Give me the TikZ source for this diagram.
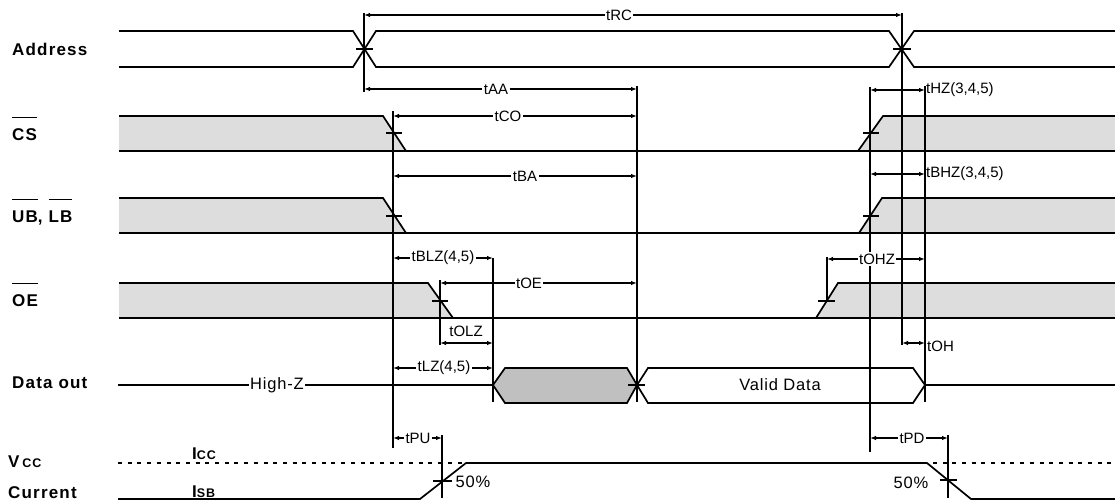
\documentclass[tikz,border=0pt]{standalone}
\usepackage{fontspec}
\setmainfont{Liberation Sans}
\newfontfamily\lblfont[LetterSpace=7]{Liberation Sans}
\newfontfamily\txtfont[LetterSpace=5]{Liberation Sans}
\usetikzlibrary{arrows.meta}
\definecolor{lgray}{RGB}{221,221,221}
\definecolor{dgray}{RGB}{192,192,192}
\newcommand\myovl[1]{\setbox0=\hbox{#1}\leavevmode\rlap{\raisebox{22pt}{\rule{\wd0}{1.5pt}}}\box0}
\begin{document}
\begin{tikzpicture}[x=1pt,y=-1pt,
  sig/.style={line width=1.7pt},
  refl/.style={line width=1.6pt},
  dim/.style={line width=1.2pt,{Latex[length=6pt,width=4.5pt]}-{Latex[length=6pt,width=4.5pt]}},
  tlab/.style={font=\fontsize{15}{16}\selectfont, fill=white, inner sep=1.5pt},
  tlabw/.style={font=\fontsize{15}{16}\selectfont, anchor=west, inner sep=1pt},
  signame/.style={anchor=base west, font=\lblfont\fontsize{17}{18}\selectfont\bfseries, inner sep=0pt},
  txt/.style={font=\txtfont\fontsize{16.5}{17}\selectfont, inner sep=1.5pt}
]
\useasboundingbox (0,0) rectangle (1115,501);

% ---------- fills ----------
\fill[lgray] (119,116) -- (383,116) -- (406,151) -- (119,151) -- cycle;
\fill[lgray] (858,151) -- (883,116) -- (1115,116) -- (1115,151) -- cycle;
\fill[lgray] (119,198) -- (383,198) -- (406,233) -- (119,233) -- cycle;
\fill[lgray] (859,233) -- (882,198) -- (1115,198) -- (1115,233) -- cycle;
\fill[lgray] (119,283) -- (428,283) -- (453,318) -- (119,318) -- cycle;
\fill[lgray] (816,318) -- (838,283) -- (1115,283) -- (1115,318) -- cycle;

% ---------- Address ----------
\draw[sig] (119,31) -- (353,31) -- (376,67) -- (889,67) -- (914,31) -- (1115,31);
\draw[sig] (119,67) -- (353,67) -- (376,31) -- (889,31) -- (914,67) -- (1115,67);
\draw[sig] (356,49) -- (373,49);
\draw[sig] (893,49) -- (911,49);

% ---------- CS ----------
\draw[sig] (119,116) -- (383,116) -- (406,151);
\draw[sig] (858,151) -- (883,116) -- (1115,116);
\draw[sig] (119,151) -- (1115,151);
\draw[sig] (386,133) -- (402,133);
\draw[sig] (863,133) -- (879,133);

% ---------- UB, LB ----------
\draw[sig] (119,198) -- (383,198) -- (406,233);
\draw[sig] (859,233) -- (882,198) -- (1115,198);
\draw[sig] (119,233) -- (1115,233);
\draw[sig] (386,216) -- (402,216);
\draw[sig] (863,216) -- (879,216);

% ---------- OE ----------
\draw[sig] (119,283) -- (428,283) -- (453,318);
\draw[sig] (816,318) -- (838,283) -- (1115,283);
\draw[sig] (119,318) -- (1115,318);
\draw[sig] (432,301) -- (448,301);
\draw[sig] (818,301) -- (835,301);

% ---------- Data out ----------
\draw[sig] (118,385) -- (493,385);
\filldraw[sig, fill=dgray] (493,385) -- (505,368) -- (627,368) -- (637,385) -- (627,403) -- (505,403) -- cycle;
\draw[sig] (637,385) -- (648,368) -- (913,368) -- (925,385) -- (913,403) -- (648,403) -- cycle;
\draw[sig] (925,385) -- (1115,385);
\draw[sig] (628,385) -- (645,385);

% ---------- Vcc / Current ----------
\draw[line width=1.6pt, dash pattern=on 4pt off 5.7pt] (118,463) -- (1115,463);
\draw[sig] (118,499) -- (420,499) -- (466,463) -- (927,463) -- (971,499) -- (1115,499);
\draw[sig] (433,481) -- (452,481);
\draw[sig] (940,480) -- (957,480);

% ---------- reference verticals ----------
\draw[refl] (364,13) -- (364,92);
\draw[refl] (902,13) -- (902,345);
\draw[refl] (393,111) -- (393,448);
\draw[refl] (637,86) -- (637,402);
\draw[refl] (440,280) -- (440,345);
\draw[refl] (493,258) -- (493,402);
\draw[refl] (870,87) -- (870,452);
\draw[refl] (827,257) -- (827,302);
\draw[refl] (925,86) -- (925,402);
\draw[refl] (442,435) -- (442,498);
\draw[refl] (948,435) -- (948,498);

% ---------- dimension arrows ----------
\draw[dim] (364,15) -- (902,15);
\node[tlab] at (619,15) {tRC};
\draw[dim] (364,89) -- (637,89);
\node[tlab] at (496,89) {tAA};
\draw[dim] (393,116) -- (637,116);
\node[tlab] at (508,116) {tCO};
\draw[dim] (870,90) -- (925,90);
\node[tlabw] at (925,90) {tHZ(3,4,5)};
\draw[dim] (393,176) -- (637,176);
\node[tlab] at (525,176) {tBA};
\draw[dim] (870,174) -- (925,174);
\node[tlabw] at (925,174) {tBHZ(3,4,5)};
\draw[dim] (393,258) -- (493,258);
\node[tlab] at (443,258) {tBLZ(4,5)};
\draw[dim] (440,283) -- (637,283);
\node[tlab] at (529,283) {tOE};
\draw[dim] (827,259) -- (925,259);
\node[tlab] at (877,259) {tOHZ};
\draw[dim] (440,343) -- (493,343);
\node[tlab, fill=none] at (466,331) {tOLZ};
\draw[dim] (393,368) -- (493,368);
\node[tlab] at (444,368) {tLZ(4,5)};
\draw[dim] (902,343) -- (925,343);
\node[tlabw] at (926,346) {tOH};
\draw[dim] (393,438) -- (442,438);
\node[tlab] at (418,438) {tPU};
\draw[dim] (870,438) -- (948,438);
\node[tlab] at (912,438) {tPD};

% ---------- texts ----------
\node[txt, fill=white] at (277,385) {High-Z};
\node[txt] at (780,385) {Valid Data};
\node[txt, anchor=west] at (454,482) {50\%};
\node[txt] at (911,483) {50\%};
\node[signame] at (192,459) {I\fontsize{12.5}{13}\selectfont CC};
\node[signame] at (192,497) {I\fontsize{12.5}{13}\selectfont SB};

% ---------- signal names ----------
\node[signame] at (12,55) {Address};
\node[signame] at (12,140) {\myovl{CS}};
\node[signame] at (12,222) {\myovl{UB}, \myovl{LB}};
\node[signame] at (12,306) {\myovl{OE}};
\node[signame] at (12,388) {Data out};
\node[signame] at (8,467) {V\,\fontsize{12.5}{13}\selectfont CC};
\node[signame] at (8,498) {Current};
\end{tikzpicture}
\end{document}
